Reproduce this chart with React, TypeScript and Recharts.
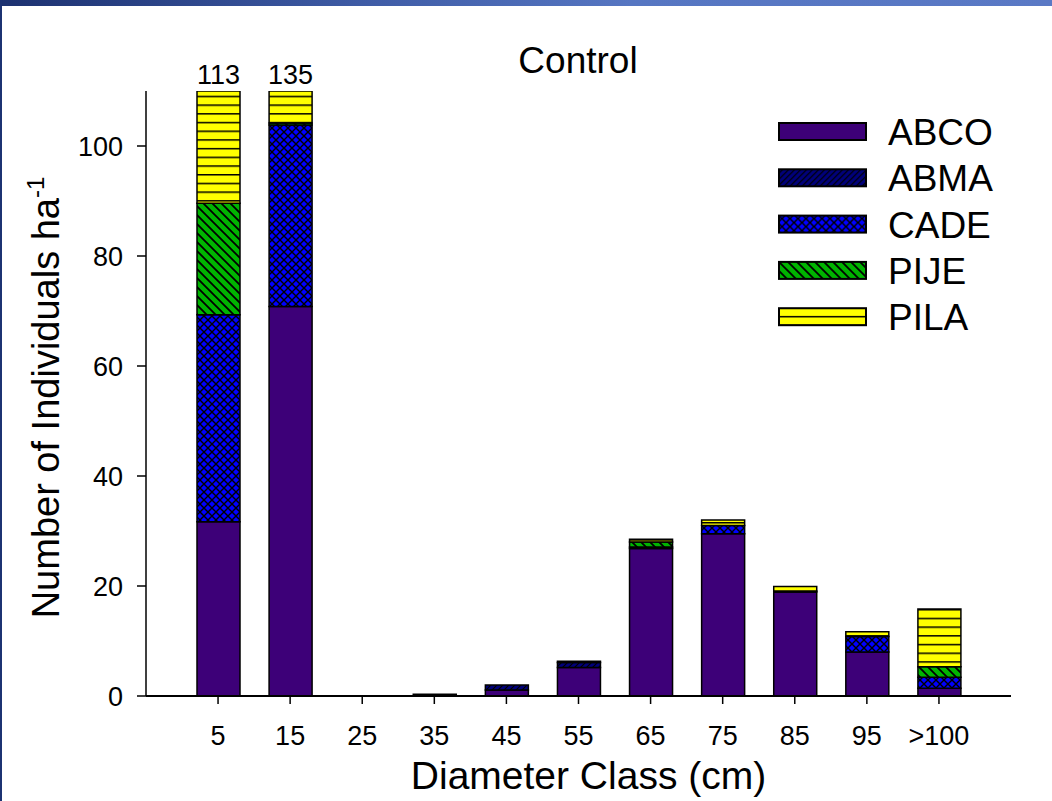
import React from "react";
import { Bar, BarChart, Label, LabelList, Legend, XAxis, YAxis } from "recharts";

const CATEGORIES = ["5", "15", "25", "35", "45", "55", "65", "75", "85", "95", ">100"];
const ABCO = [31.7, 70.8, 0, 0.3, 1.1, 5.2, 26.8, 29.5, 18.9, 8.0, 1.4];
const ABMA = [0, 0, 0, 0, 0.9, 0.9, 0, 0, 0.2, 0, 0];
const CADE = [37.6, 33.0, 0, 0, 0, 0, 0.3, 1.5, 0, 2.8, 2.0];
const PIJE = [20.3, 0.4, 0, 0, 0, 0, 0.9, 0, 0, 0, 1.9];
const PILA = [23.4, 30.8, 0, 0, 0, 0.2, 0.5, 1.0, 0.8, 0.9, 10.5];
const Y_TICKS = [0, 20, 40, 60, 80, 100];
const Y_MAX = 110;

const SERIES = [
  { key: "ABCO", fill: "#3d0078" },
  { key: "ABMA", fill: "url(#pat-abma)" },
  { key: "CADE", fill: "url(#pat-cade)" },
  { key: "PIJE", fill: "url(#pat-pije)" },
  { key: "PILA", fill: "url(#pat-pila)" },
];

const TOTALS = CATEGORIES.map((_, i) => ABCO[i] + ABMA[i] + CADE[i] + PIJE[i] + PILA[i]);

const data = CATEGORIES.map((name, i) => ({
  name,
  ABCO: ABCO[i],
  ABMA: ABMA[i],
  CADE: CADE[i],
  PIJE: PIJE[i],
  PILA: PILA[i],
  total: TOTALS[i],
}));

const FONT = "'Liberation Sans', Arial, sans-serif";
const PLOT_TOP = 91;

function TotalLabel(props: any) {
  const { x, width, index } = props;
  const total = TOTALS[index];
  if (total == null || total <= Y_MAX) return null;
  return (
    <text x={x + width / 2} y={PLOT_TOP - 7} textAnchor="middle" fontSize={27} fontFamily={FONT} fill="#000">
      {Math.round(total)}
    </text>
  );
}

function YTitle(props: any) {
  const vb = props.viewBox || { x: 0, y: PLOT_TOP, height: 605 };
  const cx = vb.x + 59;
  const cy = vb.y + vb.height / 2 + 4;
  return (
    <text transform={`translate(${cx},${cy}) rotate(-90)`} textAnchor="middle" fontSize={38} fontFamily={FONT} fill="#000">
      Number of Individuals ha
      <tspan fontSize={24} dy={-15}>-1</tspan>
    </text>
  );
}

function XTitle(props: any) {
  const vb = props.viewBox || { x: 146, width: 865 };
  return (
    <text x={vb.x + vb.width / 2 + 10} y={789} textAnchor="middle" fontSize={39} fontFamily={FONT} fill="#000">
      Diameter Class (cm)
    </text>
  );
}

function LegendBox() {
  return (
    <svg width={232} height={240} style={{ overflow: "visible" }}>
      {SERIES.map((s, i) => (
        <g key={s.key} transform={`translate(0,${i * 46.3})`}>
          <rect x={1} y={1} width={87} height={17} fill={s.fill} stroke="#000" strokeWidth={2} />
          <text x={110} y={23} fontSize={37} fontFamily={FONT} fill="#000">
            {s.key}
          </text>
        </g>
      ))}
    </svg>
  );
}

export default function App() {
  return (
    <div style={{ position: "absolute", left: 0, top: 0, width: 1052, height: 801, background: "#fff", overflow: "hidden" }}>
      <div style={{ position: "absolute", left: 0, top: 0, width: 1052, height: 6, background: "linear-gradient(to right, #1c3170, #3f5ca6 35%, #5676c2 60%, #5a79c5)" }} />
      <div style={{ position: "absolute", left: 0, top: 0, width: 2, height: 801, background: "#1c3272" }} />
      <BarChart width={1052} height={801} data={data} margin={{ top: PLOT_TOP, right: 41, bottom: 0, left: 0 }} barSize={43}>
        <defs>
          <pattern id="pat-abma" patternUnits="userSpaceOnUse" width={6} height={6}>
            <rect width={6} height={6} fill="#00007a" />
            <path d="M0,6 L6,0 M-1,1 L1,-1 M5,7 L7,5" stroke="#000" strokeWidth={1.2} />
          </pattern>
          <pattern id="pat-cade" patternUnits="userSpaceOnUse" width={8} height={8}>
            <rect width={8} height={8} fill="#0000ff" />
            <path d="M0,0 L8,8 M0,8 L8,0" stroke="#000" strokeWidth={1.4} />
          </pattern>
          <pattern id="pat-pije" patternUnits="userSpaceOnUse" width={9} height={9}>
            <rect width={9} height={9} fill="#00b400" />
            <path d="M0,0 L9,9 M-1,8 L1,10 M8,-1 L10,1" stroke="#000" strokeWidth={1.8} />
          </pattern>
          <pattern id="pat-pila" patternUnits="userSpaceOnUse" width={10} height={8.7}>
            <rect width={10} height={8.7} fill="#ffff00" />
            <line x1={0} y1={0.75} x2={10} y2={0.75} stroke="#000" strokeWidth={1.5} />
          </pattern>
        </defs>
        <XAxis
          dataKey="name"
          padding={{ left: 36, right: 36 }}
          height={105}
          tickSize={8}
          tickMargin={22}
          axisLine={{ stroke: "#000", strokeWidth: 2 }}
          tickLine={{ stroke: "#000", strokeWidth: 1.5 }}
          tick={{ fontSize: 27, fontFamily: FONT, fill: "#000" }}
          interval={0}
        >
          <Label content={<XTitle />} />
        </XAxis>
        <XAxis xAxisId="top" dataKey="name" orientation="top" height={0} tick={false} tickLine={false} axisLine={{ stroke: "#000", strokeWidth: 1.5 }} />
        <YAxis
          width={146}
          domain={[0, Y_MAX]}
          ticks={Y_TICKS}
          allowDataOverflow
          tickSize={9}
          tickMargin={14}
          axisLine={{ stroke: "#000", strokeWidth: 1.5 }}
          tickLine={{ stroke: "#000", strokeWidth: 1.5 }}
          tick={{ fontSize: 27, fontFamily: FONT, fill: "#000" }}
        >
          <Label content={<YTitle />} />
        </YAxis>
        <YAxis yAxisId="r" orientation="right" width={0} domain={[0, Y_MAX]} tick={false} tickLine={false} axisLine={{ stroke: "#000", strokeWidth: 1.5 }} />
        <Legend
          layout="horizontal"
          verticalAlign="middle"
          align="center"
          content={() => <LegendBox />}
          wrapperStyle={{ position: "absolute", left: 778, top: 122, width: 232, height: 240 }}
        />
        {SERIES.map((s) => (
          <Bar key={s.key} dataKey={s.key} stackId="s" fill={s.fill} stroke="#000" strokeWidth={1.5} isAnimationActive={false}>
            {s.key === "PILA" ? <LabelList dataKey="total" content={<TotalLabel />} /> : null}
          </Bar>
        ))}
      </BarChart>
      <svg width={1052} height={120} style={{ position: "absolute", left: 0, top: 0, pointerEvents: "none" }}>
        <text x={578} y={73} textAnchor="middle" fontSize={37} fontFamily={FONT} fill="#000">
          Control
        </text>
      </svg>
    </div>
  );
}
